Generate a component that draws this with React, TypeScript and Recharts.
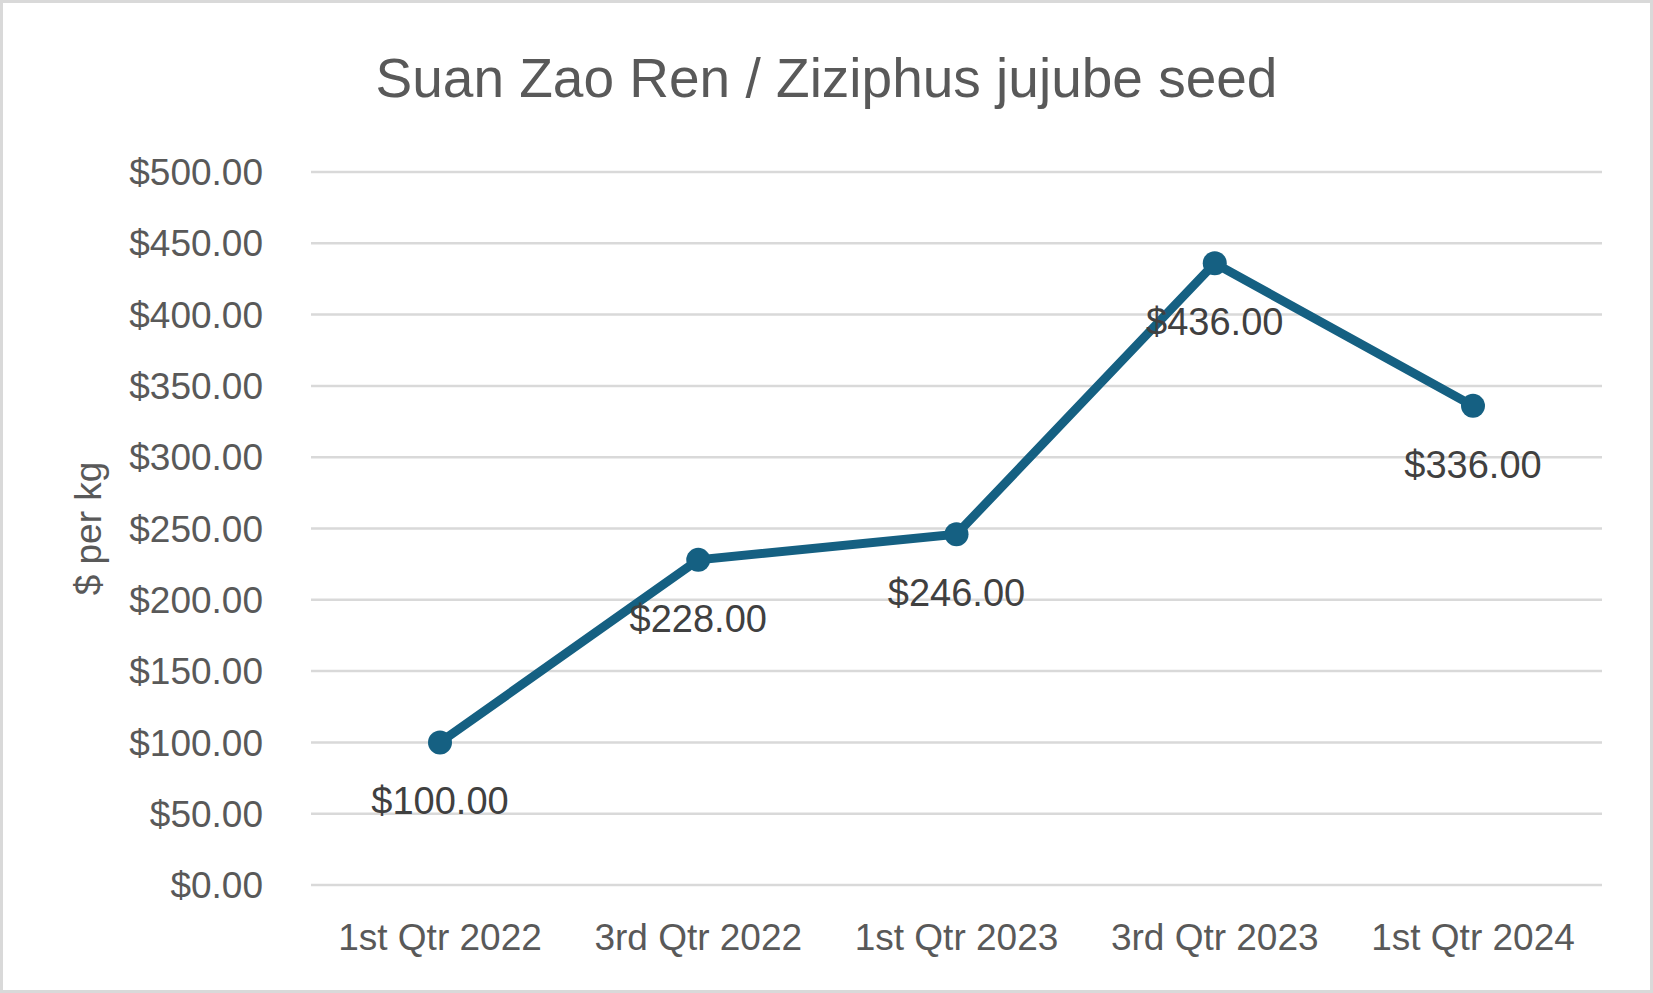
import React from 'react';
import { LineChart, Line, XAxis, YAxis, CartesianGrid, LabelList } from 'recharts';

const quarters = ['1st Qtr 2022', '3rd Qtr 2022', '1st Qtr 2023', '3rd Qtr 2023', '1st Qtr 2024'];
const pricePerKg = [100, 228, 246, 436, 336];
const yTicks = [0, 50, 100, 150, 200, 250, 300, 350, 400, 450, 500];

const chartData = quarters.map((q, i) => ({ quarter: q, price: pricePerKg[i] }));

const FONT = '"Liberation Sans", Arial, sans-serif';
const LINE_COLOR = '#156082';

const money = (v: number) => `$${Number(v).toFixed(2)}`;

const AxisTitle = (props: any) => {
  const { viewBox } = props;
  if (!viewBox) return null;
  const cx = viewBox.x + 88;
  const cy = viewBox.y + viewBox.height / 2;
  return (
    <text
      x={cx}
      y={cy}
      transform={`rotate(-90 ${cx} ${cy})`}
      textAnchor="middle"
      dominantBaseline="central"
      fill="#595959"
      fontSize={37}
      fontFamily={FONT}
    >
      $ per kg
    </text>
  );
};

export default function App() {
  return (
    <div style={{ position: 'absolute', left: 0, top: 0, width: 1653, height: 993, background: '#fff' }}>
      <div
        style={{
          position: 'absolute',
          left: 0,
          top: 50,
          width: 1653,
          textAlign: 'center',
          fontFamily: FONT,
          fontSize: 55,
          lineHeight: '56px',
          color: '#595959',
        }}
      >
        Suan Zao Ren / Ziziphus jujube seed
      </div>
      <div style={{ position: 'absolute', left: 0, top: 0 }}>
        <LineChart width={1653} height={993} data={chartData} margin={{ top: 172, right: 51, bottom: 0, left: 0 }}>
          <CartesianGrid horizontal vertical={false} stroke="#d9d9d9" strokeWidth={2.5} />
          <XAxis
            dataKey="quarter"
            height={108}
            padding={{ left: 129, right: 129 }}
            axisLine={false}
            tickLine={false}
            tickMargin={33}
            tick={{ fill: '#595959', fontSize: 37, fontFamily: FONT }}
          />
          <YAxis
            width={311}
            domain={[0, 500]}
            ticks={yTicks}
            tickFormatter={money}
            axisLine={false}
            tickLine={false}
            tickMargin={42}
            tick={{ fill: '#595959', fontSize: 37, fontFamily: FONT }}
            label={{ content: AxisTitle }}
          />
          <Line
            type="linear"
            dataKey="price"
            stroke={LINE_COLOR}
            strokeWidth={9}
            dot={{ r: 12, fill: LINE_COLOR, stroke: LINE_COLOR, strokeWidth: 0 }}
            isAnimationActive={false}
          >
            <LabelList
              dataKey="price"
              position="bottom"
              offset={45}
              formatter={(v: any) => money(v)}
              fill="#404040"
              fontSize={38}
              fontFamily={FONT}
            />
          </Line>
        </LineChart>
      </div>
      <div
        style={{
          position: 'absolute',
          inset: 0,
          border: '3px solid #d9d9d9',
          boxSizing: 'border-box',
          pointerEvents: 'none',
        }}
      />
    </div>
  );
}
